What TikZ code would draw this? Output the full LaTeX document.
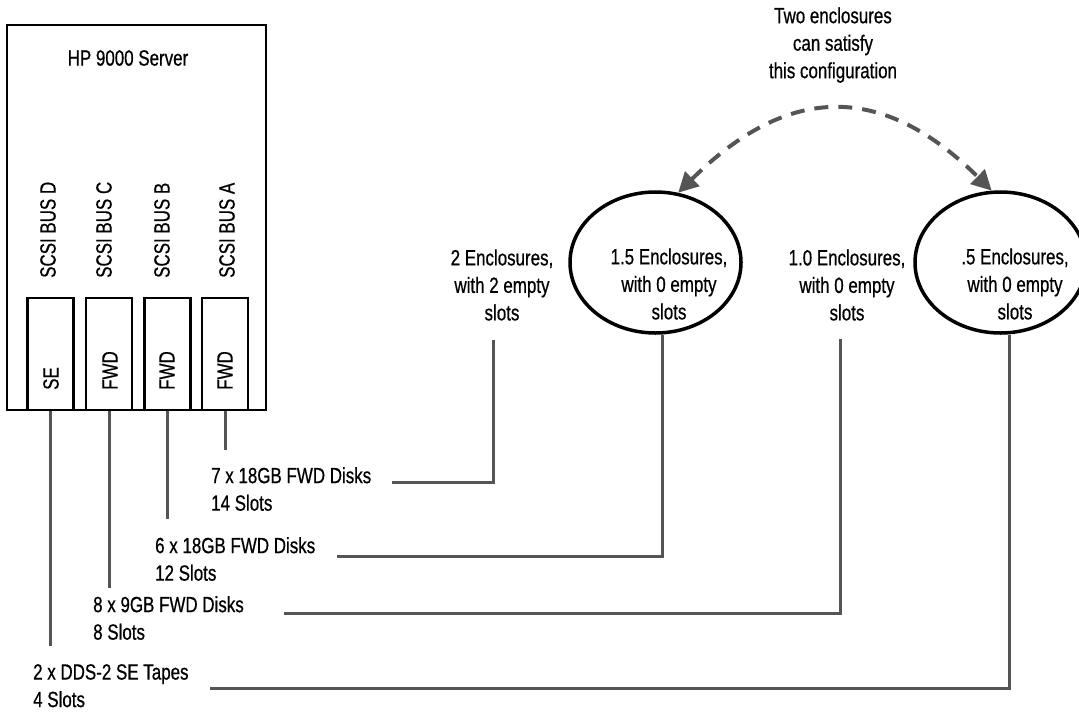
\documentclass[tikz,border=0pt]{standalone}
\usepackage{fontspec}
\setmainfont{Liberation Sans}[FakeStretch=0.77,FakeBold=0.6]
\usetikzlibrary{arrows.meta,shapes.geometric}
\definecolor{wiregray}{HTML}{555555}
\tikzset{
  wire/.style={draw=wiregray, line width=3pt},
  busbox/.style={draw, line width=2.4pt, minimum width=46pt, minimum height=112pt, inner sep=0pt},
  encl/.style={ellipse, draw, line width=3.5pt, minimum width=171pt, minimum height=141pt, inner sep=0pt},
  txt/.style={align=center, inner sep=0pt},
  disks/.style={align=left, anchor=north west, inner sep=0pt},
  upright/.style={rotate=90, anchor=west, inner sep=0pt},
}
\begin{document}
\begin{tikzpicture}[x=1pt,y=-1pt,font=\fontsize{22}{27.5}\selectfont]
  \useasboundingbox (0,0) rectangle (1079,713);
  % Server
  \node[draw, line width=2.6pt, minimum width=259pt, minimum height=385pt, inner sep=0pt] (server) at (136.5,217.5) {};
  \node[txt] (srvname) at (128,58) {HP 9000 Server};
  % SCSI buses
  \node[busbox] (bD) at (50.5,354) {};
  \node[busbox] (bC) at (109,354) {};
  \node[busbox] (bB) at (167.5,354) {};
  \node[busbox] (bA) at (225,354) {};
  \node[upright] (nD) at (48,278) {SCSI BUS D};
  \node[upright] (nC) at (104,278) {SCSI BUS C};
  \node[upright] (nB) at (162,278) {SCSI BUS B};
  \node[upright] (nA) at (227,278) {SCSI BUS A};
  \node[upright] (fD) at (51,390) {SE};
  \node[upright] (fC) at (110,390) {FWD};
  \node[upright] (fB) at (167,390) {FWD};
  \node[upright] (fA) at (225,390) {FWD};
  % Disk groups
  \node[disks] (l7) at (211,467) {7 x 18GB FWD Disks\\14 Slots};
  \node[disks] (l6) at (155,537) {6 x 18GB FWD Disks\\12 Slots};
  \node[disks] (l8) at (93,596) {8 x 9GB FWD Disks\\8 Slots};
  \node[disks] (lD) at (33,664) {2 x DDS-2 SE Tapes\\4 Slots};
  % Enclosures
  \node[encl] (e15) at (655.5,262.5) {};
  \node[encl] (e05) at (1000.5,262.5) {};
  \node[txt] (t2) at (502,285) {2 Enclosures,\\with 2 empty\\slots};
  \node[txt] (t15) at (669,284) {1.5 Enclosures,\\with 0 empty\\slots};
  \node[txt] (t10) at (847,285) {1.0 Enclosures,\\with 0 empty\\slots};
  \node[txt] (t05) at (1015,284) {.5 Enclosures,\\with 0 empty\\slots};
  \node[txt] (note) at (833,45) {Two enclosures\\can satisfy\\this configuration};
  % Wires
  \draw[wire] (bA.south) -- ++(0,39);
  \draw[wire] (bB.south) -- ++(0,108);
  \draw[wire] (bC.south) -- ++(0,177);
  \draw[wire] (bD.south) -- ++(0,235);
  \coordinate (k7) at (392,482);
  \coordinate (k2) at (493,340);
  \coordinate (k6) at (337,556);
  \coordinate (k8) at (284,613);
  \coordinate (k10) at (840,339);
  \coordinate (kD) at (210,688);
  \draw[wire] (k7) -| (k2);
  \draw[wire] (k6) -| ([xshift=6.5pt]e15.south);
  \draw[wire] (k8) -| (k10);
  \draw[wire] (kD) -| ([xshift=9pt]e05.south);
  % Two enclosures
  \draw[wiregray, line width=4pt, dash pattern=on 14pt off 10pt,
    {Triangle[length=20pt,width=20pt]}-{Triangle[length=20pt,width=20pt]}]
    (e15.72) .. controls (788,84) and (882,82) .. (e05.97);
\end{tikzpicture}
\end{document}
